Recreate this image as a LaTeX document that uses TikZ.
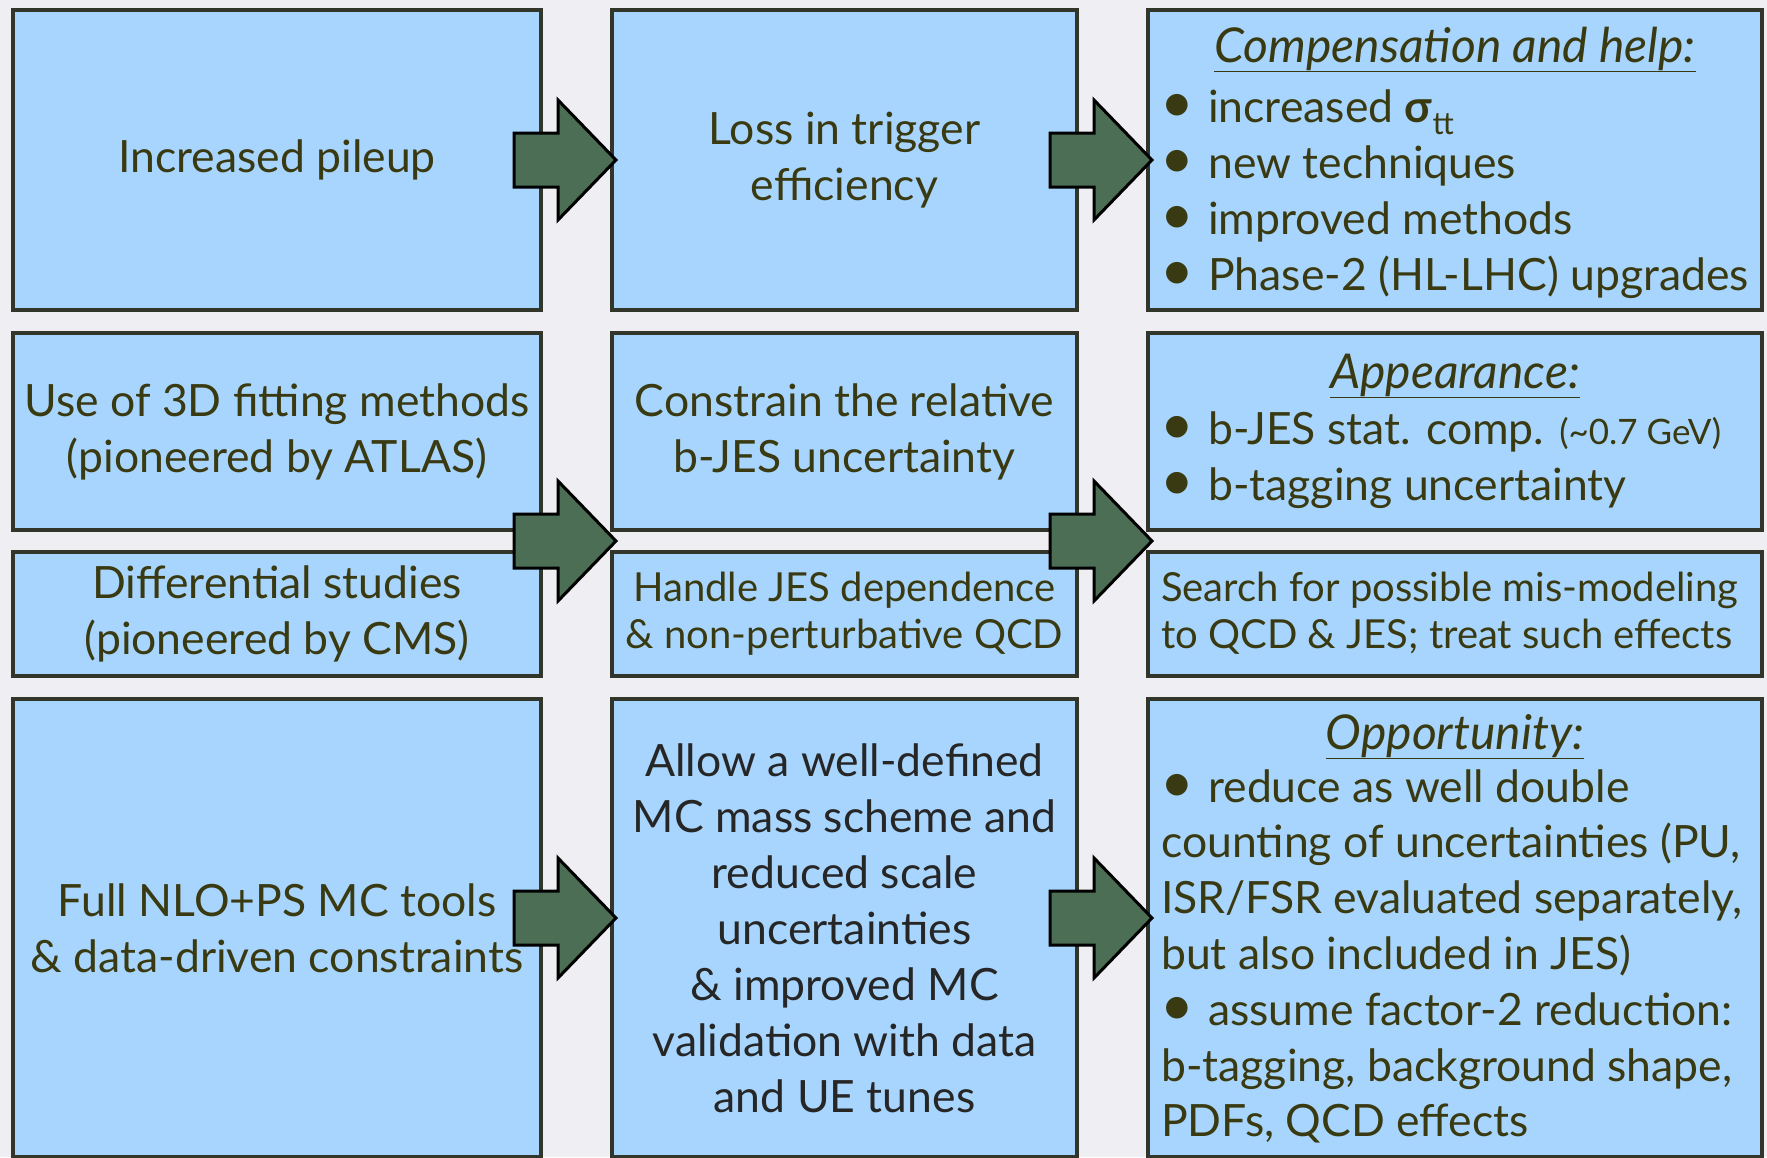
\documentclass[tikz,border=0pt]{standalone}
\usepackage{fontspec}
\setmainfont{Lato}
\usetikzlibrary{calc}
\definecolor{bg}{HTML}{EFEFF3}
\definecolor{boxfill}{HTML}{A8D5FD}
\definecolor{boxline}{HTML}{32362A}
\definecolor{txt}{HTML}{3A3A12}
\definecolor{txtdark}{HTML}{262626}
\definecolor{arrfill}{HTML}{4B6E55}
\newcommand\mainsize{\fontsize{44.5}{56}\selectfont}
\newcommand\headsize{\fontsize{48}{56}\selectfont}
\newcommand\smallersize{\fontsize{40}{47}\selectfont}
\newcommand\bul{\makebox[32pt][c]{\fontsize{58}{56}\selectfont •}\hspace{15pt}}
\tikzset{
  panel/.style={draw=boxline, line width=4pt, fill=boxfill, rectangle, inner sep=0pt,
    text=txt, align=center, font=\mainsize},
  listline/.style={anchor=base west, inner sep=0pt, text=txt, font=\mainsize},
  smallline/.style={anchor=base west, inner sep=0pt, text=txt, font=\smallersize},
  heading/.style={anchor=base, inner sep=0pt, text=txt, font=\headsize\itshape},
  fatarrow/.pic={\draw[line width=3pt, fill=arrfill, line join=miter]
    (0,0) -- (-58,-60) -- (-58,-27) -- (-102,-27) -- (-102,27) -- (-58,27) -- (-58,60) -- cycle;}
}
\begin{document}
\begin{tikzpicture}[x=1pt,y=-1pt]
\fill[bg] (0,0) rectangle (1767,1157);
\useasboundingbox (0,0) rectangle (1767,1157);
% column 1
\node[panel, minimum width=528, minimum height=300] (r1c1) at (277,160) {Increased pileup};
\node[panel, minimum width=528, minimum height=197] (r2c1) at (277,431.5) {Use of 3D fitting methods\\(pioneered by ATLAS)};
\node[panel, minimum width=528, minimum height=124] (r2bc1) at (277,614) {Differential studies\\(pioneered by CMS)};
\node[panel, minimum width=528, minimum height=458] (r3c1) at (277,928) {Full NLO+PS MC tools\\\& data-driven constraints};
% column 2
\node[panel, minimum width=465, minimum height=300] (r1c2) at (844.5,160) {Loss in trigger\\efficiency};
\node[panel, minimum width=465, minimum height=197] (r2c2) at (844.5,431.5) {Constrain the relative\\b-JES uncertainty};
\node[panel, minimum width=465, minimum height=124, font=\smallersize] (r2bc2) at (844.5,614) {Handle JES dependence\\\& non-perturbative QCD};
\node[panel, minimum width=465, minimum height=458, text=txtdark] (r3c2) at (844.5,928) {Allow a well-defined\\MC mass scheme and\\reduced scale\\uncertainties\\\& improved MC\\validation with data\\and UE tunes};
% column 3
\node[panel, minimum width=614, minimum height=300] (r1c3) at (1455,160) {};
\node[panel, minimum width=614, minimum height=197] (r2c3) at (1455,431.5) {};
\node[panel, minimum width=614, minimum height=124] (r2bc3) at (1455,614) {};
\node[panel, minimum width=614, minimum height=458] (r3c3) at (1455,928) {};
% column 3 texts
\node[heading] (h1) at (1455,62) {\underline{Compensation and help:}};
\foreach \s [count=\i] in {{\bul increased \textbf{σ}\textsubscript{tt}},{\bul new techniques},{\bul improved methods},{\bul Phase-2 (HL-LHC) upgrades}}
  \node[listline] (l1-\i) at (1161,{122+56*(\i-1)}) {\s};
\node[heading] (h2) at (1455,388) {\underline{Appearance:}};
\node[listline] (l2-1) at (1161,444) {\bul b-JES stat. comp. {\fontsize{35}{40}\selectfont(\textasciitilde0.7 GeV)}};
\node[listline] (l2-2) at (1161,500) {\bul b-tagging uncertainty};
\node[smallline] (l2b-1) at (1161,601) {Search for possible mis-modeling};
\node[smallline] (l2b-2) at (1161,648) {to QCD \& JES; treat such effects};
\node[heading] (h3) at (1455,749) {\underline{Opportunity:}};
\foreach \s [count=\i] in {{\bul reduce as well double},{counting of uncertainties (PU,},{ISR/FSR evaluated separately,},{but also included in JES)},{\bul assume factor-2 reduction:},{b-tagging, background shape,},{PDFs, QCD effects}}
  \node[listline] (l3-\i) at (1161,{802+55.8*(\i-1)}) {\s};
% arrows
\coordinate (m2a) at ($(r2c2.south west)!0.5!(r2bc2.north west)$);
\coordinate (m2b) at ($(r2c3.south west)!0.5!(r2bc3.north west)$);
\pic at ($(r1c2.west)+(6,0)$) {fatarrow};
\pic at ($(r1c3.west)+(6,0)$) {fatarrow};
\pic at ($(m2a)+(6,0)$) {fatarrow};
\pic at ($(m2b)+(6,0)$) {fatarrow};
\pic at ($(r3c2.west)+(6,-10)$) {fatarrow};
\pic at ($(r3c3.west)+(6,-10)$) {fatarrow};
\end{tikzpicture}
\end{document}
